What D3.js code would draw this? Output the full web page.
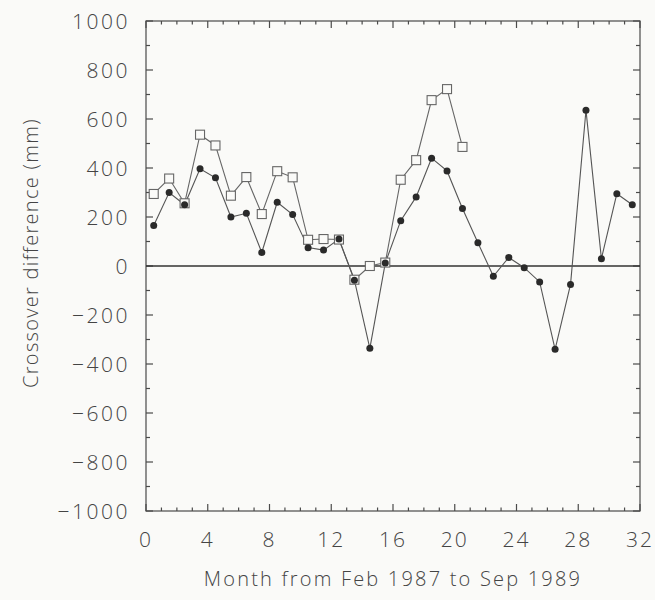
<!DOCTYPE html>
<html>
<head>
<meta charset="utf-8">
<script src="https://cdn.jsdelivr.net/npm/d3@7"></script>
<style>
  html, body { margin: 0; padding: 0; background: #fafaf8; }
  svg { display: block; }
  text { font-family: "Open Sans", "DejaVu Sans", sans-serif; font-weight: 300; fill: #444; }
</style>
</head>
<body>
<svg id="chart" width="655" height="600"></svg>
<script>
// Months (mid-month positions) and crossover differences (mm)
const monthsFilled = d3.range(32).map(i => i + 0.5);
const filledValues = [165, 300, 250, 397, 360, 200, 215, 55, 260, 210, 75, 65, 110,
  -58, -336, 12, 185, 282, 440, 388, 235, 95, -42, 35, -7, -65, -340, -75, 636, 30, 295, 250];
const monthsSquare = d3.range(21).map(i => i + 0.5);
const squareValues = [294, 357, 256, 536, 492, 287, 363, 212, 387, 362, 107, 110, 108,
  -56, 0, 14, 352, 432, 677, 722, 486];
const xTicks = [0, 4, 8, 12, 16, 20, 24, 28, 32];
const yTicks = [-1000, -800, -600, -400, -200, 0, 200, 400, 600, 800, 1000];
const xLabel = "Month from Feb 1987 to Sep 1989";
const yLabel = "Crossover difference (mm)";

const svg = d3.select("#chart");
const margin = { left: 146, right: 15, top: 21, bottom: 89 };
const W = 655, H = 600;
const x = d3.scaleLinear().domain([0, 32]).range([margin.left, W - margin.right]);
const y = d3.scaleLinear().domain([-1000, 1000]).range([H - margin.bottom, margin.top]);

const ink = "#4a4a4a";
const g = svg.append("g");

// Frame
g.append("rect")
  .attr("x", x(0)).attr("y", y(1000))
  .attr("width", x(32) - x(0)).attr("height", y(-1000) - y(1000))
  .attr("fill", "none").attr("stroke", ink).attr("stroke-width", 1.2);

// Ticks (inward) on all four sides
const xMinor = d3.range(0, 33, 1);
const yMinor = d3.range(-1000, 1001, 100);
xMinor.forEach(v => {
  const major = v % 4 === 0;
  const len = major ? 7 : 3.5;
  g.append("line").attr("x1", x(v)).attr("x2", x(v))
    .attr("y1", y(-1000)).attr("y2", y(-1000) - len)
    .attr("stroke", ink).attr("stroke-width", 1.2);
  g.append("line").attr("x1", x(v)).attr("x2", x(v))
    .attr("y1", y(1000)).attr("y2", y(1000) + len)
    .attr("stroke", ink).attr("stroke-width", 1.2);
});
yMinor.forEach(v => {
  const major = v % 200 === 0;
  const len = major ? 7 : 4;
  g.append("line").attr("y1", y(v)).attr("y2", y(v))
    .attr("x1", x(0)).attr("x2", x(0) + len)
    .attr("stroke", ink).attr("stroke-width", 1.2);
  g.append("line").attr("y1", y(v)).attr("y2", y(v))
    .attr("x1", x(32)).attr("x2", x(32) - len)
    .attr("stroke", ink).attr("stroke-width", 1.2);
});

// Tick labels
g.selectAll(".xt").data(xTicks).enter().append("text")
  .attr("x", d => x(d)).attr("y", 547)
  .attr("text-anchor", "middle")
  .attr("font-size", 21).attr("letter-spacing", 2)
  .text(d => d);
g.selectAll(".yt").data(yTicks).enter().append("text")
  .attr("x", 130).attr("y", d => y(d) + 7.5)
  .attr("text-anchor", "end")
  .attr("font-size", 21).attr("letter-spacing", 2.5)
  .text(d => d < 0 ? "\u2212" + Math.abs(d) : d);

// Axis titles
g.append("text").attr("x", 393).attr("y", 586)
  .attr("text-anchor", "middle").attr("font-size", 20).attr("letter-spacing", 2.2)
  .text(xLabel);
g.append("text")
  .attr("transform", `translate(38,${(y(1000) + y(-1000)) / 2 - 13}) rotate(-90)`)
  .attr("text-anchor", "middle").attr("font-size", 20).attr("letter-spacing", 1.3)
  .text(yLabel);

// Zero line
g.append("line").attr("x1", x(0)).attr("x2", x(32))
  .attr("y1", y(0)).attr("y2", y(0))
  .attr("stroke", "#333").attr("stroke-width", 1.6);

const line = d3.line().x(d => x(d[0])).y(d => y(d[1]));
const filled = monthsFilled.map((m, i) => [m, filledValues[i]]);
const squares = monthsSquare.map((m, i) => [m, squareValues[i]]);

// Square series line
g.append("path").datum(squares).attr("d", line)
  .attr("fill", "none").attr("stroke", "#666").attr("stroke-width", 1.1);
// Filled series line
g.append("path").datum(filled).attr("d", line)
  .attr("fill", "none").attr("stroke", "#555").attr("stroke-width", 1.1);

g.selectAll(".sq").data(squares).enter().append("rect")
  .attr("x", d => x(d[0]) - 4.5).attr("y", d => y(d[1]) - 4.5)
  .attr("width", 9).attr("height", 9)
  .attr("fill", "#fafaf8").attr("stroke", "#666").attr("stroke-width", 1.1);

g.selectAll(".dot").data(filled).enter().append("circle")
  .attr("cx", d => x(d[0])).attr("cy", d => y(d[1]))
  .attr("r", 3.5).attr("fill", "#2a2a2a");
</script>
</body>
</html>
